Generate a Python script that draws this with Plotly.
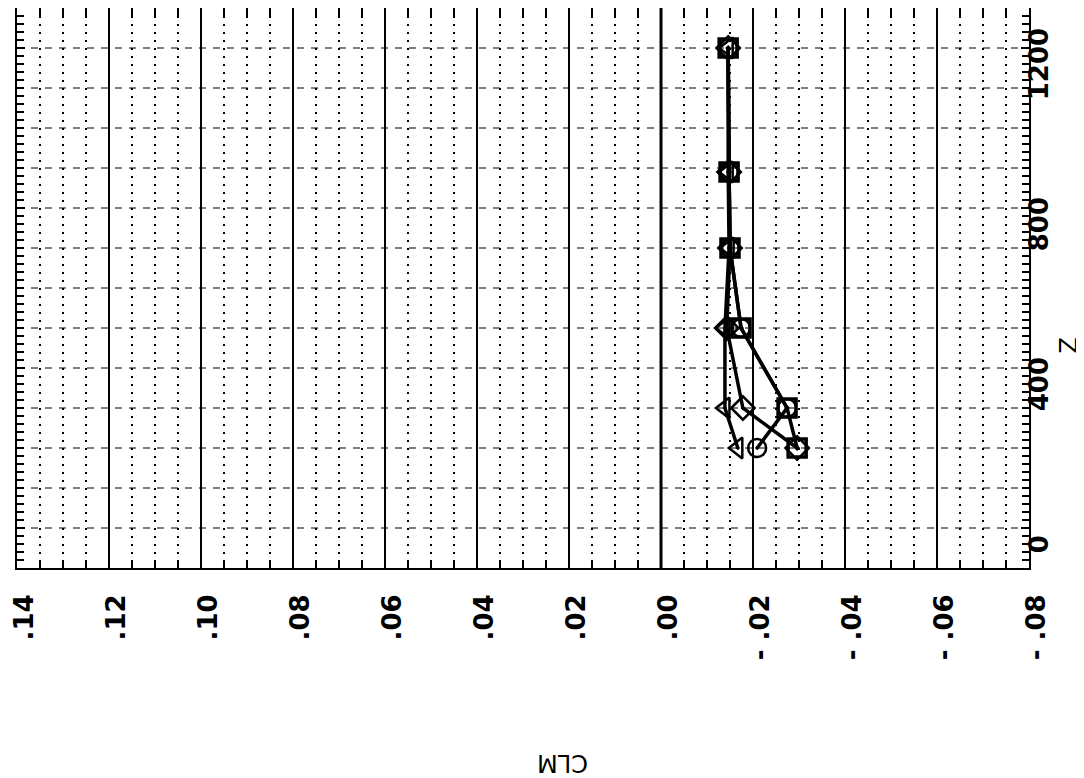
"""
CLM versus Z, drawn on its side like the scanned plotter sheet
"""

import plotly.graph_objects as go

# Data
z = [200, 300, 500, 700, 890, 1200]
clm_square = [-0.0296, -0.0274, -0.0174, -0.0150, -0.0148, -0.0146]
clm_circle = [-0.0209, -0.0274, -0.0174, -0.0150, -0.0148, -0.0146]
clm_diamond = [-0.0296, -0.0178, -0.0143, -0.0150, -0.0148, -0.0146]
clm_triangle = [-0.0167, -0.0139, -0.0139, -0.0148, -0.0146, -0.0146]

clm_ticks = [0.14, 0.12, 0.10, 0.08, 0.06, 0.04, 0.02, 0.00, -0.02, -0.04, -0.06, -0.08]
clm_labels = [".14", ".12", ".10", ".08", ".06", ".04", ".02", ".00",
              "- .02", "- .04", "- .06", "- .08"]
z_ticks = [0, 400, 800, 1200]
z_labels = ["0", "400", "800", "1200"]

FONT = dict(family="DejaVu Sans", size=26, color="black", weight="bold")

fig = go.Figure()

series = [
    (clm_triangle, "triangle-left-open-dot", 2.5),
    (clm_diamond, "diamond-open-dot", 2.5),
    (clm_circle, "circle-open-dot", 2.5),
    (clm_square, "square-open-dot", 3.5),
]
for clm, symbol, lw in series:
    fig.add_trace(go.Scatter(
        x=clm, y=z, mode="lines+markers",
        line=dict(color="black", width=3.5),
        marker=dict(symbol=symbol, size=18, color="black",
                    line=dict(color="black", width=lw)),
        showlegend=False,
    ))

# thick zero line
fig.add_vline(x=0, line=dict(color="black", width=3), layer="below")

fig.update_xaxes(
    range=[0.14, -0.08], tickvals=clm_ticks, ticktext=clm_labels,
    tickangle=-90, tickfont=FONT, ticklabelstandoff=14, ticklabelshift=-8,
    ticklabeloverflow="allow",
    ticks="inside", ticklen=12, tickwidth=2, tickcolor="black",
    minor=dict(dtick=0.005, ticks="inside", ticklen=8, tickwidth=2, tickcolor="black",
               showgrid=True, gridcolor="black", gridwidth=2, griddash="2px,6px"),
    showgrid=True, gridcolor="black", gridwidth=1.5,
    showline=True, linecolor="black", linewidth=2, mirror="ticks",
    zeroline=False, automargin=False,
)

fig.update_yaxes(
    range=[-100, 1300], side="right", tickvals=z_ticks, ticktext=z_labels,
    tickangle=-90, tickfont=FONT, ticklabelstandoff=-14, ticklabelshift=20,
    ticklabeloverflow="allow",
    ticks="inside", ticklen=8, tickwidth=2, tickcolor="black",
    minor=dict(dtick=20, ticks="inside", ticklen=7, tickwidth=2, tickcolor="black",
               showgrid=False),
    showgrid=False,
    showline=True, linecolor="black", linewidth=2, mirror="ticks",
    zeroline=False, automargin=False,
)

# dashed horizontal grid every 100 in Z
for zz in range(0, 1300, 100):
    fig.add_hline(y=zz, line=dict(color="black", width=1, dash="7px,7px"), layer="below")

fig.add_annotation(text="CLM", xref="paper", yref="paper", x=0.5385, y=-0.348,
                   xanchor="center", yanchor="middle", showarrow=False, textangle=180,
                   font=dict(family="DejaVu Sans", size=24, color="black"))
fig.add_annotation(text="Z", xref="paper", yref="paper", x=1.04, y=0.398,
                   xanchor="center", yanchor="middle", showarrow=False, textangle=-90,
                   font=dict(family="DejaVu Sans", size=24, color="black"))

# the page body adds 8 px around the figure, so size it to fit the window
fig.update_layout(
    width=1076, height=770,
    margin=dict(l=9, r=55, t=0, b=210),
    paper_bgcolor="white", plot_bgcolor="white",
)

fig.write_html("out.html")
